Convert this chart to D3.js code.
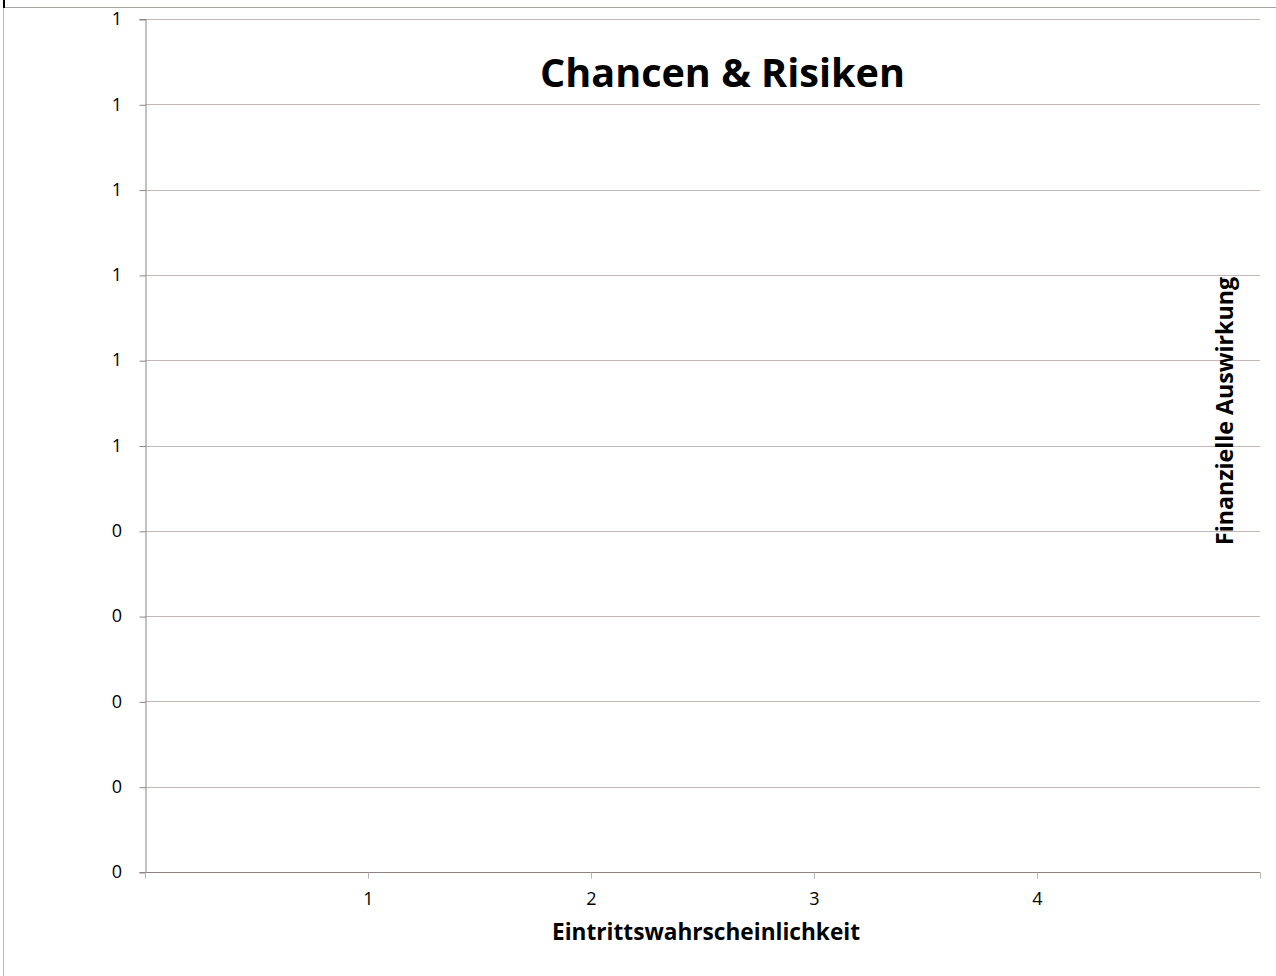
<!DOCTYPE html>
<html><head><meta charset="utf-8">
<script src="https://cdn.jsdelivr.net/npm/d3@7"></script>
<style>
html,body{margin:0;padding:0;background:#fff;}
svg{display:block;}
text{font-family:"Open Sans","Liberation Sans",sans-serif;}
</style></head>
<body>
<script>
const chartTitle = "Chancen & Risiken";
const xAxisTitle = "Eintrittswahrscheinlichkeit";
const yAxisTitle = "Finanzielle Auswirkung";
const xTicks = [0, 1, 2, 3, 4, 5];
const xTickLabels = ["", "1", "2", "3", "4", ""];
const yTicks = [0, 0.1, 0.2, 0.3, 0.4, 0.5, 0.6, 0.7, 0.8, 0.9, 1.0];
const yTickLabels = ["0", "0", "0", "0", "0", "1", "1", "1", "1", "1", "1"];
const pointsX = [];
const pointsY = [];

const W = 1276, H = 976;
const m = {left: 145, right: 1260, top: 19, bottom: 872};
const svg = d3.select("body").append("svg").attr("width", W).attr("height", H);

// outer chart frame
svg.append("line").attr("x1", 3.5).attr("x2", 1276).attr("y1", 7.5).attr("y2", 7.5)
  .attr("stroke", "#a9a4a2").attr("stroke-width", 1);
svg.append("line").attr("x1", 3.5).attr("x2", 3.5).attr("y1", 7.5).attr("y2", H)
  .attr("stroke", "#bdb8b6").attr("stroke-width", 1);
svg.append("rect").attr("x", 3).attr("y", 0).attr("width", 2).attr("height", 8).attr("fill", "#000");

const x = d3.scaleLinear().domain([0, 5]).range([m.left, m.right]);
const y = d3.scaleLinear().domain([0, 1]).range([m.bottom, m.top]);

// gridlines
svg.append("g").selectAll("line").data(yTicks.slice(1)).join("line")
  .attr("x1", m.left).attr("x2", m.right)
  .attr("y1", d => Math.round(y(d)) + 0.5).attr("y2", d => Math.round(y(d)) + 0.5)
  .attr("stroke", "#c3b7b7").attr("stroke-width", 1);

const tickFont = "'Open Sans','Liberation Sans',sans-serif";

// y axis
const yAxis = d3.axisLeft(y).tickValues(yTicks).tickSize(6).tickPadding(17.5)
  .tickFormat((d, i) => yTickLabels[i]);
const gy = svg.append("g").attr("transform", `translate(${m.left + 0.5},0)`).call(yAxis);
gy.attr("font-size", null).attr("font-family", null);
gy.select(".domain").attr("stroke", "#8e8383");
gy.selectAll(".tick line").attr("stroke", "#8e8383")
  .attr("transform", "translate(0,0.5)");
gy.selectAll(".tick text").attr("fill", "#000").style("font-size", "18px")
  .style("font-family", tickFont);

// x axis
const xAxis = d3.axisBottom(x).tickValues(xTicks).tickSize(6).tickPadding(13.5)
  .tickFormat((d, i) => xTickLabels[i]);
const gx = svg.append("g").attr("transform", `translate(0,${m.bottom + 0.5})`).call(xAxis);
gx.attr("font-size", null).attr("font-family", null);
gx.select(".domain").attr("stroke", "#8e8383").attr("d", `M${m.left},0H${m.right}`);
gx.selectAll(".tick line").attr("stroke", "#b9b4b4");
gx.selectAll(".tick text").attr("fill", "#000").style("font-size", "18px")
  .style("font-family", tickFont);

// (empty) data series
svg.append("g").selectAll("circle").data(pointsX.map((v, i) => [v, pointsY[i]])).join("circle")
  .attr("cx", d => x(d[0])).attr("cy", d => y(d[1])).attr("r", 5).attr("fill", "#4f81bd");

// titles
svg.append("text").attr("x", 722.5).attr("y", 87).attr("text-anchor", "middle")
  .style("font-size", "40px").style("font-weight", "bold").attr("fill", "#000")
  .attr("textLength", 365).attr("lengthAdjust", "spacingAndGlyphs")
  .text(chartTitle);
svg.append("text").attr("x", 706).attr("y", 940).attr("text-anchor", "middle")
  .style("font-size", "23px").style("font-weight", "bold").attr("fill", "#000")
  .attr("textLength", 308).attr("lengthAdjust", "spacingAndGlyphs")
  .text(xAxisTitle);
svg.append("text").attr("transform", "translate(1233,411) rotate(-90)").attr("text-anchor", "middle")
  .style("font-size", "23px").style("font-weight", "bold").attr("fill", "#000")
  .attr("textLength", 268).attr("lengthAdjust", "spacingAndGlyphs")
  .text(yAxisTitle);
</script>
</body></html>
